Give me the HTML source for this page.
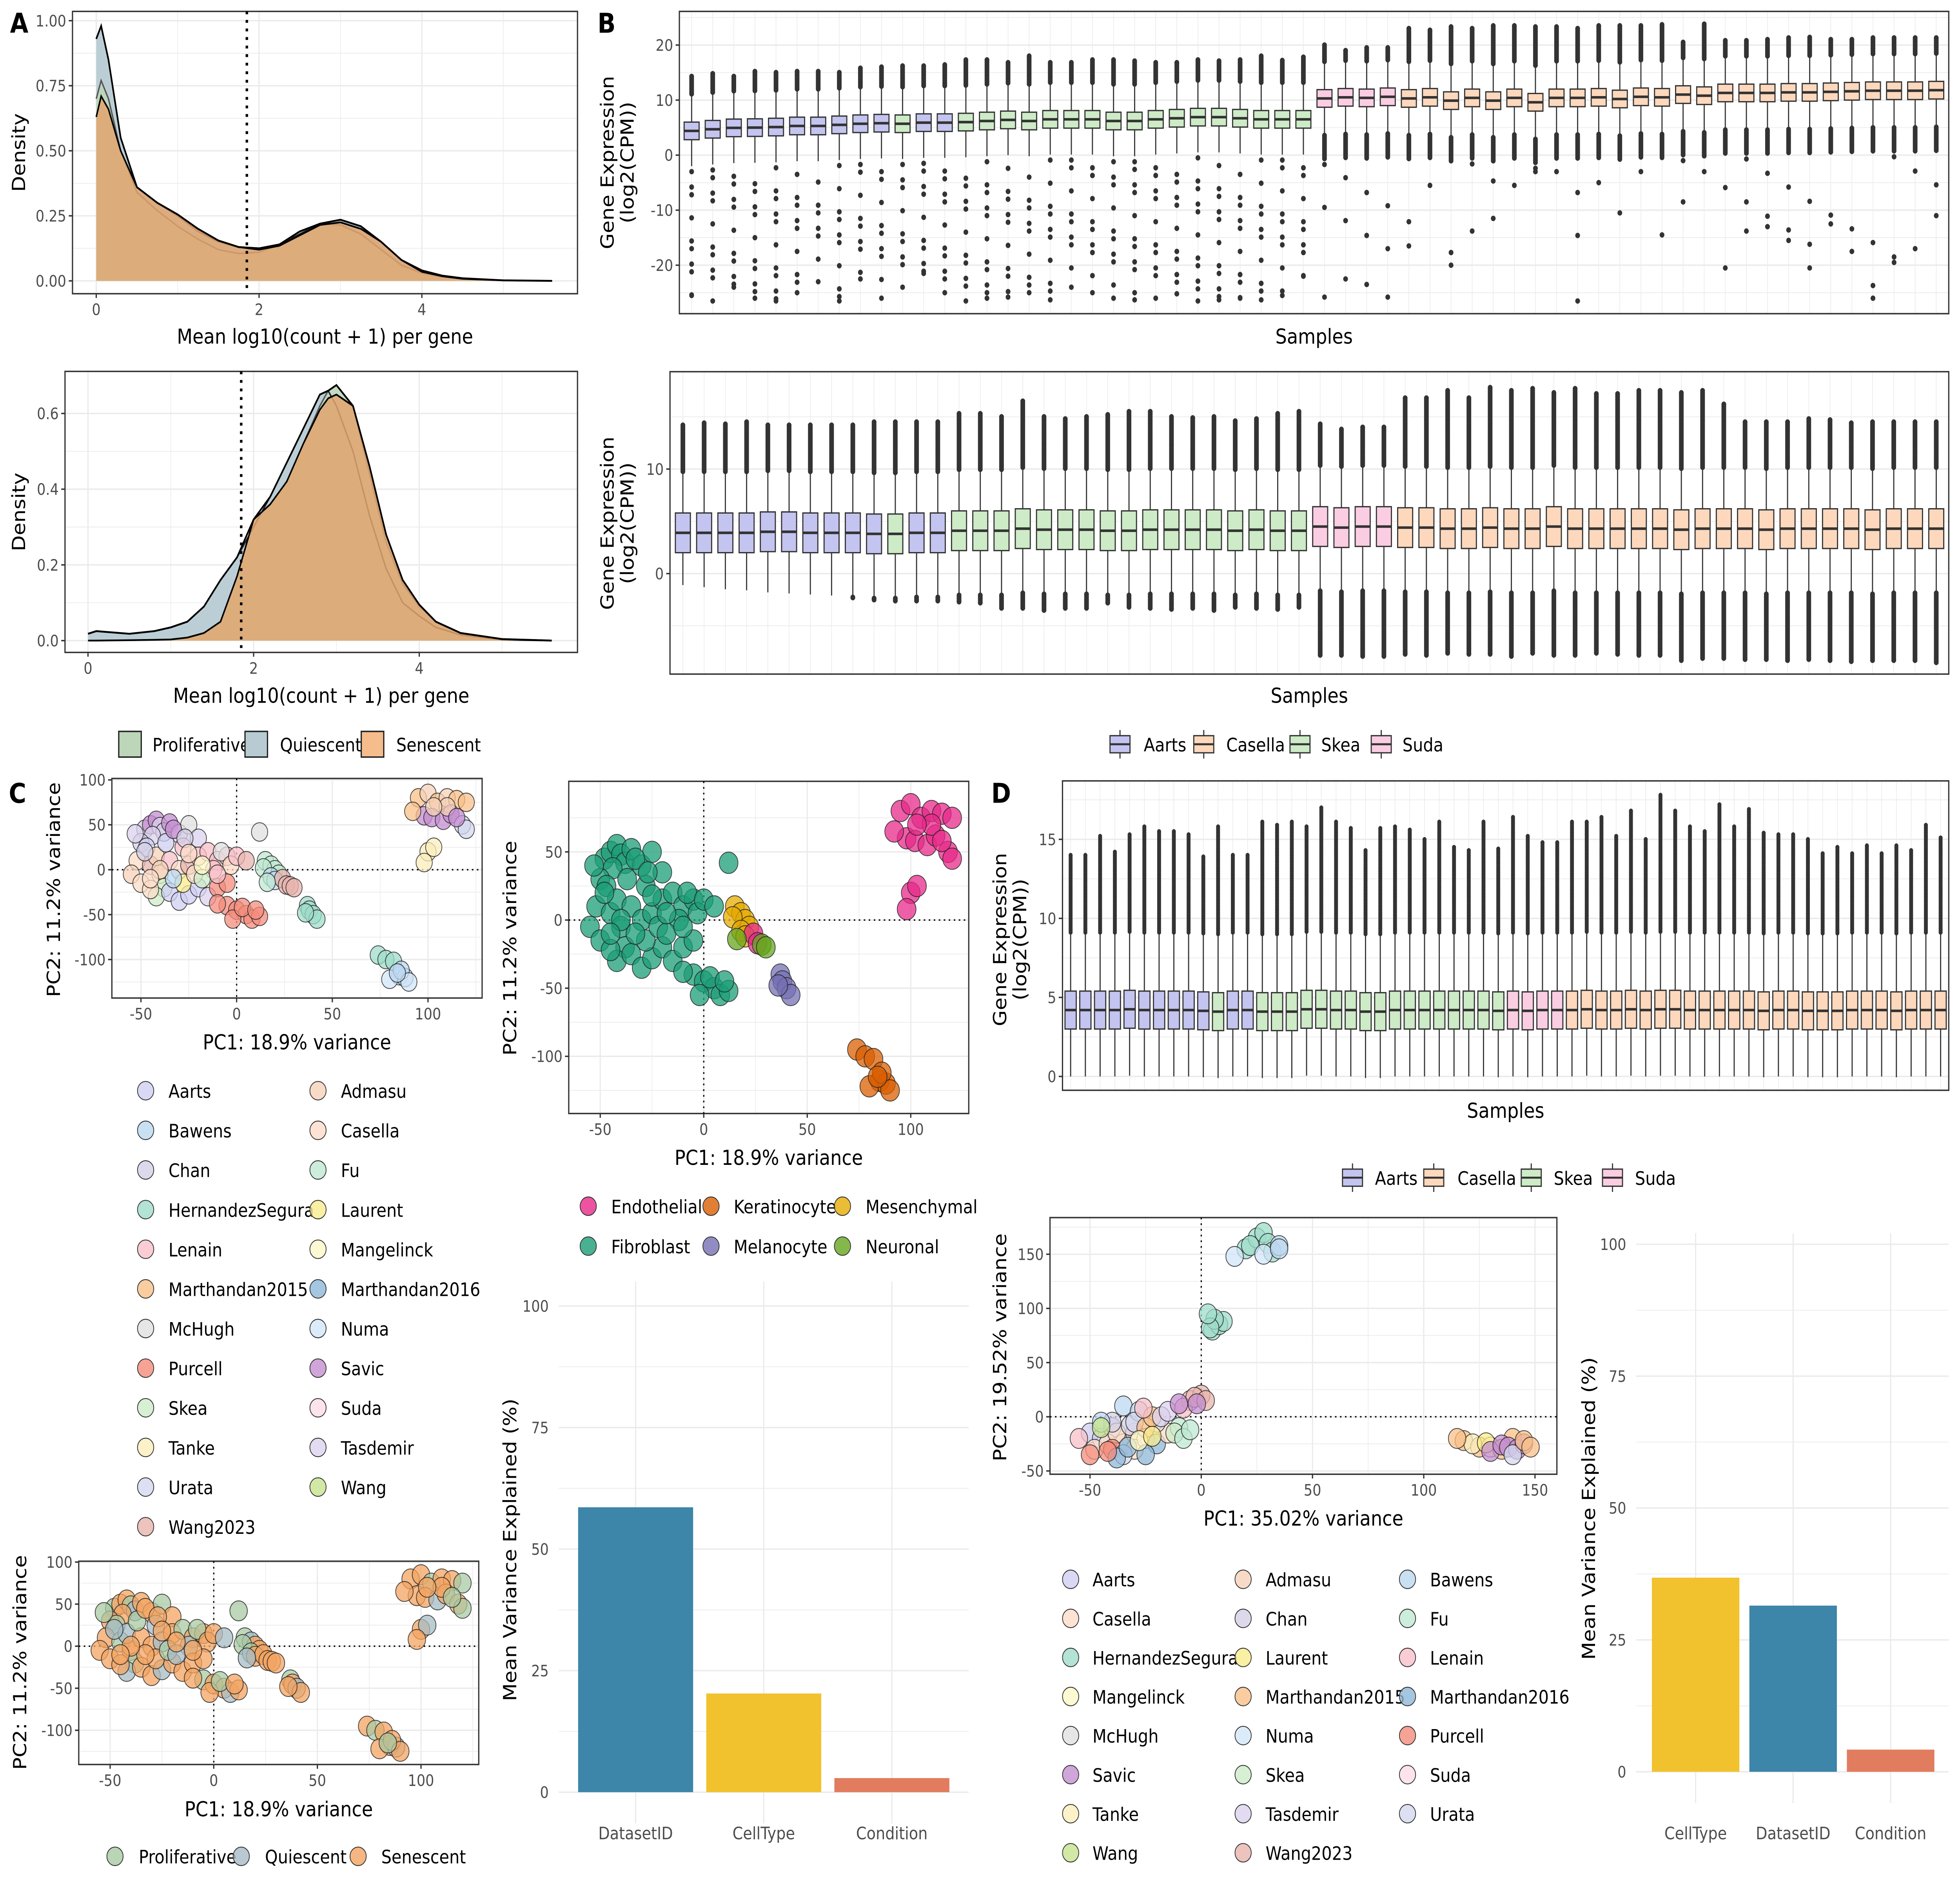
<!DOCTYPE html>
<html><head><meta charset="utf-8">
<style>html,body{margin:0;padding:0;background:#fff;overflow:hidden;width:100vw;height:100vh}svg{display:block;width:100vw;height:100vh}text{font-family:"DejaVu Sans","Liberation Sans",sans-serif}</style>
</head><body>
<svg id="fig" xmlns="http://www.w3.org/2000/svg" viewBox="0 0 1568 1320" preserveAspectRatio="none"><rect x="0" y="0" width="1568" height="1320" fill="#fff"/></svg>
<script>
// ---------- DATA ----------
const densXTop = [0,0.06,0.15,0.3,0.5,0.75,1,1.25,1.5,1.75,2,2.25,2.5,2.75,3,3.25,3.5,3.75,4,4.25,4.5,5,5.6];
const densQTop = [0.93,0.98,0.85,0.55,0.36,0.30,0.25,0.19,0.15,0.13,0.125,0.14,0.18,0.22,0.235,0.21,0.15,0.08,0.04,0.02,0.01,0.002,0];
const densPTop = [0.70,0.77,0.70,0.50,0.34,0.27,0.21,0.16,0.12,0.105,0.11,0.14,0.19,0.22,0.215,0.18,0.12,0.06,0.03,0.015,0.008,0.002,0];
const densSTop = [0.63,0.71,0.66,0.50,0.36,0.30,0.255,0.20,0.155,0.13,0.12,0.135,0.175,0.215,0.225,0.20,0.15,0.08,0.035,0.018,0.008,0.002,0];
const densXBot = [0,0.1,0.5,0.8,1,1.2,1.4,1.6,1.8,2,2.2,2.4,2.6,2.8,2.9,3,3.2,3.4,3.6,3.8,4,4.2,4.5,5,5.6];
const densQBot = [0.018,0.025,0.018,0.025,0.035,0.05,0.09,0.16,0.22,0.30,0.38,0.47,0.56,0.65,0.66,0.62,0.50,0.33,0.19,0.10,0.065,0.035,0.015,0.002,0];
const densPBot = [0,0,0.001,0.002,0.003,0.008,0.02,0.05,0.17,0.32,0.36,0.42,0.52,0.62,0.66,0.675,0.62,0.44,0.26,0.15,0.09,0.05,0.02,0.004,0];
const densSBot = [0,0,0.001,0.002,0.003,0.008,0.02,0.05,0.17,0.32,0.36,0.42,0.52,0.61,0.64,0.65,0.62,0.46,0.28,0.16,0.095,0.05,0.02,0.004,0];
const densCutoff = 1.85;

const sampleGroup = ['A','A','A','A','A','A','A','A','A','A','S','A','A',
 'S','S','S','S','S','S','S','S','S','S','S','S','S','S','S','S','S',
 'U','U','U','U',
 'C','C','C','C','C','C','C','C','C','C','C','C','C','C','C','C','C','C','C','C','C','C','C','C','C','C'];
const groupNames = {A:'Aarts',C:'Casella',S:'Skea',U:'Suda'};

const medB1 = [4.4,4.7,4.95,5.0,5.1,5.3,5.3,5.5,5.7,5.8,5.7,5.9,5.9,
 6.0,6.2,6.4,6.2,6.5,6.5,6.5,6.2,6.2,6.5,6.7,6.9,6.9,6.7,6.5,6.5,6.5,
 10.3,10.5,10.4,10.6,
 10.3,10.5,9.9,10.4,9.9,10.4,9.6,10.4,10.4,10.5,10.2,10.6,10.5,11.0,10.8,11.3,11.3,11.3,11.4,11.4,11.5,11.6,11.7,11.7,11.7,11.8];
const hiB1 = [14.3,14.8,14.3,15.2,15.0,15.2,15.2,15.0,15.8,16.0,16.2,16.2,16.4,
 17.3,17.3,16.8,18.0,16.8,16.8,17.3,17.3,17.1,16.8,16.8,17.3,17.1,17.3,18.0,17.2,17.8,
 20.0,19.0,19.5,19.5,
 23.0,22.7,23.3,23.0,23.5,23.5,23.3,23.3,23.0,23.5,23.5,23.5,23.7,20.5,23.8,20.8,20.8,21.0,21.3,21.4,21.0,21.0,21.3,21.3,21.3,21.3];
const loB1 = [-25.5,-26.5,-24,-26,-26.5,-25,-23,-26.5,-22.5,-26,-24,-21.5,-25,
 -26.5,-26,-25.8,-25,-26.3,-24,-25,-26,-26.3,-26,-25.2,-26.5,-26.3,-26,-26.3,-25.5,-22,
 -25.8,-22.5,-23.5,-25.8,
 -16.5,-5.5,-20,-13.8,-11.5,-5.5,-3,-3,-26.5,-5,-10.5,-3,-14.5,-8.5,-3,-20.5,-13.8,-13,-15.5,-20.5,-12.5,-17.5,-26,-19.5,-17,-11];

const medB2 = [3.9,3.9,3.9,3.9,4.0,4.0,3.9,3.9,3.9,3.8,3.8,3.9,3.9,
 4.1,4.1,4.1,4.3,4.2,4.2,4.2,4.1,4.1,4.2,4.2,4.2,4.2,4.1,4.2,4.1,4.1,
 4.5,4.4,4.5,4.5,
 4.4,4.4,4.3,4.3,4.4,4.3,4.3,4.5,4.3,4.3,4.3,4.3,4.3,4.2,4.3,4.3,4.3,4.2,4.3,4.3,4.3,4.3,4.2,4.3,4.3,4.3];
const hiB2 = [14.2,14.4,14.3,14.5,14.2,14.2,14.2,14.2,14.2,14.5,14.5,14.5,14.5,
 15.3,15.3,15.0,16.5,15.0,14.8,15.0,15.2,15.5,15.5,15.0,14.9,15.0,14.6,14.8,15.3,15.5,
 14.3,13.8,14.0,14.0,
 16.8,16.8,17.5,16.8,17.8,17.5,17.7,17.3,17.7,17.2,17.2,17.5,17.5,17.3,17.5,16.2,14.5,14.5,14.5,14.8,14.7,14.4,14.5,14.5,14.5,14.5];
const loB2 = [-1.1,-1.3,-1.5,-1.6,-1.8,-1.9,-2.0,-2.1,-2.3,-2.5,-2.6,-2.6,-2.6,
 -2.7,-2.8,-3.3,-3.3,-3.5,-3.3,-3.3,-2.8,-3.2,-3.3,-3.4,-3.3,-3.5,-3.2,-3.3,-3.4,-3.2,
 -7.8,-7.8,-7.9,-7.9,
 -7.7,-7.8,-7.6,-7.7,-7.7,-7.9,-7.6,-7.8,-7.8,-7.6,-7.7,-7.8,-7.8,-8.3,-8.1,-8.1,-8.2,-8.2,-8.3,-8.2,-8.3,-8.4,-8.3,-8.3,-8.3,-8.5];

const medD = [4.2,4.2,4.2,4.2,4.25,4.2,4.2,4.2,4.2,4.15,4.1,4.2,4.2,
 4.1,4.1,4.1,4.25,4.25,4.2,4.2,4.1,4.1,4.2,4.2,4.2,4.2,4.2,4.2,4.2,4.15,
 4.2,4.15,4.2,4.2,
 4.2,4.25,4.2,4.2,4.25,4.2,4.25,4.25,4.2,4.2,4.2,4.2,4.2,4.15,4.2,4.2,4.15,4.15,4.15,4.2,4.2,4.2,4.15,4.2,4.2,4.2];
const hiD = [14.0,14.0,15.2,14.2,15.3,15.8,15.5,15.5,15.3,13.9,15.8,14.0,14.0,
 16.1,15.9,16.1,15.8,17.0,16.1,15.7,14.3,15.7,15.8,15.6,15.0,16.1,14.5,14.3,16.1,14.4,
 16.4,15.2,14.8,14.8,
 16.1,16.1,16.4,15.2,16.8,15.0,17.8,16.8,15.8,15.5,17.2,15.8,16.9,15.4,15.3,15.3,15.0,14.1,14.5,14.1,14.6,14.1,14.6,14.3,15.9,15.1];

const dsNames = ['Aarts','Admasu','Bawens','Casella','Chan','Fu','HernandezSegura','Laurent','Lenain','Mangelinck','Marthandan2015','Marthandan2016','McHugh','Numa','Purcell','Savic','Skea','Suda','Tanke','Tasdemir','Urata','Wang','Wang2023'];
const dsColors = {Aarts:'#cfcff2',Admasu:'#f6d2b8',Bawens:'#bcd8f0',Casella:'#fcdcc8',Chan:'#d4d0e6',Fu:'#bfe8d2',HernandezSegura:'#9fdcca',Laurent:'#f9ec8c',Lenain:'#f8c0c8',Mangelinck:'#fdf8c8',Marthandan2015:'#f9c088',Marthandan2016:'#8fb8d8',McHugh:'#e0e0e0',Numa:'#d2e6f8',Purcell:'#f48c7c',Savic:'#c48ed0',Skea:'#cdecc8',Suda:'#fcdce9',Tanke:'#fbeebc',Tasdemir:'#dcd2ee',Urata:'#d4d8ef',Wang:'#c6e48e',Wang2023:'#e8b4ae'};
const ctNames = ['Endothelial','Keratinocyte','Mesenchymal','Fibroblast','Melanocyte','Neuronal'];
const ctColors = {Endothelial:'#e7298a',Fibroblast:'#1b9e77',Keratinocyte:'#d95f02',Melanocyte:'#7570b3',Mesenchymal:'#e6ab02',Neuronal:'#66a61e'};
const condNames = ['Proliferative','Quiescent','Senescent'];
const condColors = {Proliferative:'#a9c9a4',Quiescent:'#a7bcc6',Senescent:'#f3a462'};
const condSwatch = {Proliferative:'#bdd6b9',Quiescent:'#b8cbd3',Senescent:'#f5bd8c'};

const pc1C = [-48,-45,-42,-40,-38,-35,-44,-50,-47,-30,-25,-20,-28,-52,-55,-50,-45,-40,-42,-35,
 -30,-25,-20,-15,-10,-5,-12,-8,-3,0,-38,-42,-35,-30,-25,-20,-15,-28,-45,-33,
 -22,-18,-10,-5,-48,-37,-33,-27,-53,-40,-18,-10,5,-45,-25,12,
 -5,0,5,8,12,-2,3,10,-10,
 15,18,20,14,22,
 18,20,24,26,28,30,16,
 37,38,40,42,36,
 74,78,82,85,88,80,86,90,84,
 95,100,105,110,115,120,98,102,108,112,118,120,100,103,98,92,110,115,103];
const pc2C = [45,50,55,48,42,52,38,30,25,40,50,35,25,10,-5,-15,5,-5,15,10,
 0,5,15,20,10,15,0,20,5,15,-20,-30,-25,-35,-28,-20,-30,-15,-22,-10,
 -5,-10,-20,-15,20,30,45,35,40,0,5,-5,10,-10,18,42,
 -40,-45,-50,-55,-52,-55,-42,-45,-38,
 10,5,0,2,-5,
 -8,-12,-10,-17,-18,-20,-14,
 -40,-45,-50,-55,-48,
 -95,-100,-102,-118,-120,-122,-112,-125,-115,
 80,85,75,80,78,75,60,58,55,62,50,45,20,25,8,65,70,58,70];
const dsC = ['Chan','Savic','Savic','Tasdemir','Chan','Savic','Tasdemir','Chan','Aarts','Tasdemir','McHugh','Tasdemir','Lenain','Casella','Admasu','Casella','Wang2023','Casella','Admasu','Lenain',
 'Casella','Wang2023','Lenain','Lenain','Lenain','Lenain','Lenain','McHugh','Casella','Lenain','Skea','Skea','Aarts','Aarts','Aarts','Aarts','Tasdemir','Laurent','Casella','Bawens',
 'Casella','Skea','Purcell','Purcell','Chan','Aarts','Savic','Chan','Tasdemir','Admasu','Mangelinck','Lenain','Wang2023','Casella','Casella','McHugh',
 'Purcell','Purcell','Purcell','Purcell','Purcell','Purcell','Purcell','Purcell','Purcell',
 'Fu','Fu','Fu','Fu','Fu',
 'Bawens','Bawens','Wang2023','Wang2023','Wang2023','Wang2023','Fu',
 'HernandezSegura','HernandezSegura','HernandezSegura','HernandezSegura','HernandezSegura',
 'HernandezSegura','HernandezSegura','HernandezSegura','Numa','Bawens','Numa','Bawens','Numa','Bawens',
 'Marthandan2015','Admasu','Marthandan2015','Admasu','Marthandan2015','Marthandan2015','Savic','Savic','Savic','Savic','Urata','Urata','Tanke','Tanke','Tanke','Marthandan2015','Admasu','Savic','Admasu'];
const ctC = ['F','F','F','F','F','F','F','F','F','F','F','F','F','F','F','F','F','F','F','F',
 'F','F','F','F','F','F','F','F','F','F','F','F','F','F','F','F','F','F','F','F',
 'F','F','F','F','F','F','F','F','F','F','F','F','F','F','F','F',
 'F','F','F','F','F','F','F','F','F',
 'Ms','Ms','Ms','Ms','Ms',
 'Ms','Ms','E','E','N','N','N',
 'Me','Me','Me','Me','Me',
 'K','K','K','K','K','K','K','K','K',
 'E','E','E','E','E','E','E','E','E','E','E','E','E','E','E','E','E','E','E'];
const condC = ['P','S','S','P','Q','S','S','S','P','S','P','S','Q','S','S','S','P','S','Q','S',
 'S','Q','S','P','S','S','Q','P','S','S','P','Q','S','S','Q','S','S','S','S','S',
 'P','Q','S','S','Q','P','S','S','P','S','S','S','Q','S','S','P',
 'P','S','S','Q','S','S','P','S','S',
 'P','Q','S','P','S',
 'P','S','S','S','S','S','Q',
 'P','S','Q','S','S',
 'S','P','S','S','Q','S','S','S','P',
 'S','S','P','S','S','P','S','S','Q','S','S','P','S','Q','S','S','S','P','S'];
const ctCode = {F:'Fibroblast',E:'Endothelial',K:'Keratinocyte',Me:'Melanocyte',Ms:'Mesenchymal',N:'Neuronal'};
const condCode = {P:'Proliferative',Q:'Quiescent',S:'Senescent'};

const pc1D = [-50,-45,-40,-35,-30,-55,-48,-42,-38,-30,-25,-20,-15,-40,-32,-45,-35,-28,-20,-10,-12,-8,-5,-50,-40,-35,-30,-25,-22,-38,-33,-18,-15,-45,-25,-28,-22,-42,-26,
 -5,0,-8,-3,2,-10,-2,
 5,8,10,6,4,3,
 20,25,28,30,32,35,22,28,15,35,
 118,125,140,122,130,128,135,130,135,138,142,145,140,145,148,115];
const pc2D = [-15,-20,-10,-25,-15,-20,-30,-25,-15,-30,-20,-25,-15,-5,-8,-5,10,5,-5,-10,-15,-20,-12,-35,-30,-35,-5,-10,0,-38,-28,0,5,-10,-35,-22,-18,-32,8,
 15,20,8,18,15,12,12,
 80,85,88,90,82,95,
 155,165,170,160,152,158,158,150,148,155,
 -22,-28,-20,-25,-28,-24,-30,-32,-26,-28,-30,-25,-35,-22,-28,-20];
const dsD = ['Aarts','Aarts','Aarts','Admasu','Admasu','Lenain','Casella','Casella','Casella','Casella','Casella','Marthandan2016','Casella','Chan','Chan','Bawens','Bawens','Bawens','McHugh','Fu','Skea','Fu','Fu','Purcell','Purcell','Urata','Urata','Marthandan2015','Marthandan2015','Marthandan2016','Marthandan2016','Tasdemir','Tasdemir','Wang','Marthandan2016','Mangelinck','Laurent','Purcell','Lenain',
 'Lenain','Wang2023','Lenain','Wang2023','Wang2023','Savic','Savic',
 'HernandezSegura','HernandezSegura','HernandezSegura','HernandezSegura','HernandezSegura','HernandezSegura',
 'HernandezSegura','HernandezSegura','HernandezSegura','HernandezSegura','HernandezSegura','Bawens','HernandezSegura','Numa','Numa','Bawens',
 'Marthandan2015','Marthandan2015','Marthandan2015','Tanke','Tanke','Laurent','Marthandan2015','Savic','Savic','Savic','Savic','Savic','Urata','Marthandan2015','Marthandan2015','Marthandan2015'];

const barCatsC = ['DatasetID','CellType','Condition'];
const barValsC = [58.6,20.3,2.9];
const barCatsD = ['CellType','DatasetID','Condition'];
const barValsD = [36.8,31.5,4.2];
const barColors = {DatasetID:'#3d85a9',CellType:'#f1c22e',Condition:'#e17c5e'};

// ---------- HELPERS ----------
const NS='http://www.w3.org/2000/svg';
const fig=document.getElementById('fig');
function mk(tag,attrs,parent){const e=document.createElementNS(NS,tag);for(const k in attrs)e.setAttribute(k,attrs[k]);(parent||fig).appendChild(e);return e;}
function grp(name,parent){const g=mk('g',{},parent);


return g;}
function txt(p,x,y,s,size,anchor,fill,extra){const t=mk('text',Object.assign({x:x,y:y,'font-size':size,'text-anchor':anchor||'middle',fill:fill||'#000'},extra||{}),p);t.textContent=s;return t;}
function lin(d0,p0,d1,p1){return v=>p0+(v-d0)*(p1-p0)/(d1-d0);}
const GRID='#ebebeb';

function panelFrame(g,L,T,R,B,xs,ys,xT,yT,xMin,yMin,xLab,yLab,bw,fmtY){
  const grid=grp('grid',g);
  for(const v of (yMin||[])){const l=mk('line',{x1:L,x2:R,y1:ys(v),y2:ys(v),stroke:GRID,'stroke-width':0.5},grid);
  }
  for(const v of (xMin||[])){const l=mk('line',{x1:xs(v),x2:xs(v),y1:T,y2:B,stroke:GRID,'stroke-width':0.5},grid);
  }
  for(const v of yT){const l=mk('line',{x1:L,x2:R,y1:ys(v),y2:ys(v),stroke:GRID,'stroke-width':1},grid);
  }
  for(const v of (xT||[])){const l=mk('line',{x1:xs(v),x2:xs(v),y1:T,y2:B,stroke:GRID,'stroke-width':1},grid);
  }
  if(bw){const r=mk('rect',{x:L,y:T,width:R-L,height:B-T,fill:'none',stroke:'#333','stroke-width':1},g);
  }
  for(const v of yT){
    if(bw){const tk=mk('line',{x1:L-3,x2:L,y1:ys(v),y2:ys(v),stroke:'#333','stroke-width':1},g);
    }
    const t=txt(g,L-5,ys(v)+4,fmtY?fmtY(v):String(v),11,'end','#4d4d4d');
    
  }
  for(const v of (xT||[])){
    if(bw){const tk=mk('line',{x1:xs(v),x2:xs(v),y1:B,y2:B+3,stroke:'#333','stroke-width':1},g);
    }
    const t=txt(g,xs(v),B+15,String(v),11,'middle','#4d4d4d');
    
  }
}
function yTitle(g,x,cy,s,size){const t=txt(g,x,cy,s,size||14.5,'middle','#000',{transform:'rotate(-90 '+x+' '+cy+')'});return t;}

// ---------- PANEL A: densities ----------
function densPanel(name,L,T,R,B,xs,ys,yT,yMin,fmt,X,Q,P,S,titleY){
  const g=grp(name);
  panelFrame(g,L,T,R,B,xs,ys,[0,2,4],yT,[1,3,5],yMin,null,null,true,fmt);
  const area=(arr)=>{let d='M'+xs(X[0])+','+ys(0);for(let i=0;i<X.length;i++)d+='L'+xs(X[i]).toFixed(2)+','+ys(arr[i]).toFixed(2);return d+'L'+xs(X[X.length-1])+','+ys(0)+'Z';};
  const line=(arr)=>{let d='';for(let i=0;i<X.length;i++)d+=(i?'L':'M')+xs(X[i]).toFixed(2)+','+ys(arr[i]).toFixed(2);return d;};
  const fq=mk('path',{d:area(Q),fill:condSwatch.Quiescent,'fill-opacity':0.95},g);
  
  const fp=mk('path',{d:area(P),fill:condSwatch.Proliferative,'fill-opacity':0.9},g);
  
  const lp=mk('path',{d:line(P),fill:'none',stroke:'#555','stroke-width':1.1},g);
  
  const lq=mk('path',{d:line(Q),fill:'none',stroke:'#222','stroke-width':1.1},g);
  
  const fs=mk('path',{d:area(S),fill:'#e2a56f','fill-opacity':0.85},g);
  
  const ls=mk('path',{d:line(S),fill:'none',stroke:'#000','stroke-width':1.2},g);
  
  const top=Q.map((v,i)=>Math.max(v,P[i],S[i]));
  const lt=mk('path',{d:line(top),fill:'none',stroke:'#000','stroke-width':1.3},g);
  
  const cut=mk('line',{x1:xs(densCutoff),x2:xs(densCutoff),y1:T,y2:B,stroke:'#000','stroke-width':2,'stroke-dasharray':'2 4'},g);
  
  const xt=txt(g,(L+R)/2,titleY,'Mean log10(count + 1) per gene',14.5);
  
  const yt=yTitle(g,20,(T+B)/2,'Density');
  
}
densPanel('density-panel-top',58,8,462,206,lin(0,77,4,337.5),lin(0,197,1,14.5),[0,0.25,0.5,0.75,1],[0.125,0.375,0.625,0.875],v=>v.toFixed(2),densXTop,densQTop,densPTop,densSTop,241);
densPanel('density-panel-bottom',52,260.5,462,457.6,lin(0,70.4,4,335.4),lin(0,449.3,0.6,290),[0,0.2,0.4,0.6],[0.1,0.3,0.5],v=>v.toFixed(1),densXBot,densQBot,densPBot,densSBot,493);

{
  const g=grp('condition-legend-a');
  const xs=[95,196,289], tx=[122,224,317];
  condNames.forEach((c,i)=>{
    const r=mk('rect',{x:xs[i],y:513,width:18,height:18,fill:condSwatch[c],stroke:'#222','stroke-width':1},g);
    
    const t=txt(g,tx[i],527,c,13,'start');
    
  });
}

// ---------- BOX PANELS ----------
const boxFill={A:'#c4c4f0',C:'#fdd8bc',S:'#cdebc6',U:'#fbcde2'};
function boxPanel(name,L,T,R,B,c0,c1,ys,yT,yMin,med,h,wU,wL,hi,lo,mode,bw,dr,titleY,ytx,ytc){
  const g=grp(name);
  const n=med.length, xc=i=>c0+i*(c1-c0)/(n-1);
  const xg=[];for(let i=0;i<n;i++)xg.push(i);
  panelFrame(g,L,T,R,B,xc,ys,null,yT,xg,yMin,null,null,true);
  const pxU=Math.abs(ys(1)-ys(0)), step=1.25/pxU;
  for(let i=0;i<n;i++){
    const grpc=sampleGroup[i], sg=grp('box-'+groupNames[grpc].toLowerCase()+'-'+(i+1),g);
    const m=med[i], q3=m+h, q1=m-h, wu=m+wU, wl=Math.max(m-wL,lo[i]);
    const w=mk('line',{x1:xc(i),x2:xc(i),y1:ys(wu),y2:ys(wl),stroke:'#333','stroke-width':0.9},sg);
    
    let dd='';
    for(let v=wu+step;v<=hi[i];v+=step)dd+='M'+xc(i)+','+ys(v).toFixed(2)+'h0';
    dd+='M'+xc(i)+','+ys(hi[i]).toFixed(2)+'h0';
    const up=mk('path',{d:dd,stroke:'#333','stroke-width':dr*2,'stroke-linecap':'round',fill:'none'},sg);
    
    let ld='';
    if(mode==='B1'){
      let start=wl;
      if(grpc==='C'||grpc==='U'){const dEnd=m-11;for(let v=wl-step;v>=dEnd;v-=step)ld+='M'+xc(i)+','+ys(v).toFixed(2)+'h0';start=dEnd;}
      const sp=(grpc==='C'||grpc==='U')?2.6:1.4, keep=(grpc==='C'||grpc==='U')?2:5;
      let k=0;for(let v=start-1;v>lo[i];v-=sp,k++){if(((i*13+k*7)%10)<keep)ld+='M'+xc(i)+','+ys(v).toFixed(2)+'h0';}
      ld+='M'+xc(i)+','+ys(lo[i]).toFixed(2)+'h0';
    } else if(mode==='B2'){
      if(lo[i]<m-wL){for(let v=wl-step;v>=lo[i];v-=step)ld+='M'+xc(i)+','+ys(v).toFixed(2)+'h0';ld+='M'+xc(i)+','+ys(lo[i]).toFixed(2)+'h0';}
    }
    if(ld){const lw=mk('path',{d:ld,stroke:'#333','stroke-width':dr*2,'stroke-linecap':'round',fill:'none'},sg);
    }
    const r=mk('rect',{x:xc(i)-bw/2,y:ys(q3),width:bw,height:ys(q1)-ys(q3),fill:boxFill[grpc],stroke:'#333','stroke-width':0.9},sg);
    
    const md=mk('line',{x1:xc(i)-bw/2,x2:xc(i)+bw/2,y1:ys(m),y2:ys(m),stroke:'#333','stroke-width':1.8},sg);
    
  }
  const xt=txt(g,(L+R)/2,titleY,'Samples',14.5);
  
  const y1=yTitle(g,ytx,ytc,'Gene Expression');
  
  const y2=yTitle(g,ytx+16,ytc,'(log2(CPM))');
  
}
boxPanel('expression-boxplot-raw',543.5,8,1559,220,553.3,1549,lin(0,108.8,20,31.6),[-20,-10,0,10,20],[-25,-15,-5,5,15,25],medB1,1.6,6.4,6.4,hiB1,loB1,'B1',12,1.9,241,491,114);
boxPanel('expression-boxplot-filtered',536,260.7,1559,472.8,546.3,1549,lin(0,402.3,10,329),[0,10],[-5,5,15],medB2,1.9,5.7,6.0,hiB2,loB2,'B2',12,1.9,493,491,367);
boxPanel('expression-boxplot-d',850,547.7,1559,764.7,856.5,1552.5,lin(0,755,15,588.7),[0,5,10,15],[2.5,7.5,12.5,17.5],medD,1.2,4.8,4.2,hiD,medD.map(v=>v-4.2),'D',9,1.6,784,805,659);

function groupLegend(name,y,sx,tx){
  const g=grp(name);
  ['A','C','S','U'].forEach((k,i)=>{
    const kg=grp('legend-key-'+groupNames[k].toLowerCase(),g);
    const l=mk('line',{x1:sx[i]+8,x2:sx[i]+8,y1:y-10,y2:y+10,stroke:'#333','stroke-width':0.9},kg);
    
    const r=mk('rect',{x:sx[i],y:y-6,width:16,height:12,fill:boxFill[k],stroke:'#333','stroke-width':0.9},kg);
    
    const m=mk('line',{x1:sx[i],x2:sx[i]+16,y1:y,y2:y,stroke:'#333','stroke-width':1.4},kg);
    
    const t=txt(g,tx[i],y+5,groupNames[k],13,'start');
    
  });
}
groupLegend('dataset-legend-b',522,[888,955,1032,1097],[915,981,1057,1122]);
groupLegend('dataset-legend-d',826,[1074,1139,1217,1282],[1100,1166,1243,1308]);

// ---------- PCA PANELS ----------
function pcaPanel(name,L,T,R,B,xs,ys,xT,yT,xMin,yMin,P1,P2,colorOf,r,xTitle,xtY,yTitleX,ytc,yText){
  const g=grp(name);
  panelFrame(g,L,T,R,B,xs,ys,xT,yT,xMin,yMin,null,null,true);
  const z1=mk('line',{x1:xs(0),x2:xs(0),y1:T,y2:B,stroke:'#000','stroke-width':1,'stroke-dasharray':'1.2 2.8'},g);
  
  const z2=mk('line',{x1:L,x2:R,y1:ys(0),y2:ys(0),stroke:'#000','stroke-width':1,'stroke-dasharray':'1.2 2.8'},g);
  
  const pg=grp('points',g);
  for(let i=0;i<P1.length;i++){
    const c=mk('circle',{cx:xs(P1[i]),cy:ys(P2[i]),r:r,fill:colorOf(i),'fill-opacity':0.75,stroke:'#222','stroke-opacity':0.8,'stroke-width':0.6},pg);
    
  }
  const xt=txt(g,(L+R)/2,xtY,xTitle,14.5);
  
  const yt=yTitle(g,yTitleX,ytc,yText);
  
}
pcaPanel('pca-by-dataset',89.5,546,385.7,700,lin(0,189.3,100,342.4),lin(0,610,100,547),[-50,0,50,100],[-100,-50,0,50,100],[-25,25,75,125],[-125,-75,-25,25,75],pc1C,pc2C,i=>dsColors[dsC[i]],6.5,'PC1: 18.9% variance',736,48,624,'PC2: 11.2% variance');
pcaPanel('pca-by-celltype',455,548,775,781,lin(0,563,100,728.6),lin(0,645.3,100,549.7),[-50,0,50,100],[-100,-50,0,50],[-25,25,75],[-125,-75,-25,25,75],pc1C,pc2C,i=>ctColors[ctCode[ctC[i]]],7.5,'PC1: 18.9% variance',817,413,665,'PC2: 11.2% variance');
pcaPanel('pca-by-condition',63,1095,383,1237.6,lin(0,171,100,336.8),lin(0,1154.6,100,1095.6),[-50,0,50,100],[-100,-50,0,50,100],[-25,25,75,125],[-125,-75,-25,25,75],pc1C,pc2C,i=>condColors[condCode[condC[i]]],7,'PC1: 18.9% variance',1274,21,1166,'PC2: 11.2% variance');
pcaPanel('pca-corrected-by-dataset',840,854,1245.5,1034,lin(0,961,100,1139),lin(0,993.7,100,917.7),[-50,0,50,100,150],[-50,0,50,100,150],[-25,25,75,125],[-25,25,75,125,175],pc1D,pc2D,i=>dsColors[dsD[i]],7,'PC1: 35.02% variance',1070,805,945,'PC2: 19.52% variance');

function circleLegend(name,items,colors,cols,xc,xt,y0,dy,r){
  const g=grp(name);
  items.forEach((it,i)=>{
    const col=i%cols.length, row=Math.floor(i/cols.length);
    const y=y0+row*dy;
    const c=mk('circle',{cx:xc[col],cy:y,r:r,fill:colors[it],'fill-opacity':0.8,stroke:'#333','stroke-width':0.6},g);
    
    const t=txt(g,xt[col],y+5,it,13,'start');
    
  });
}
circleLegend('dataset-legend-c',dsNames,dsColors,[0,1],[116.5,254.4],[134.8,272.7],765,27.8,6.5);
circleLegend('celltype-legend',ctNames,ctColors,[0,1,2],[470.6,568.8,674],[489,587,692.5],846,28,6.5);
circleLegend('condition-legend-c',condNames,condColors,[0,1,2],[92,193,286.5],[111,212,305],1302,0,6.5);
circleLegend('dataset-legend-d-pca',dsNames,dsColors,[0,1,2],[856.5,994.5,1126],[874,1012.5,1144],1107.7,27.4,6.5);

// ---------- BAR PANELS ----------
function barPanel(name,L,R,T,ys,cats,vals,x0,bw,gap,ytX,ytc,labY){
  const g=grp(name);
  const grid=grp('grid',g);
  for(const v of [12.5,37.5,62.5,87.5]){const l=mk('line',{x1:L,x2:R,y1:ys(v),y2:ys(v),stroke:GRID,'stroke-width':0.5},grid);
  }
  for(const v of [0,25,50,75,100]){const l=mk('line',{x1:L,x2:R,y1:ys(v),y2:ys(v),stroke:GRID,'stroke-width':1},grid);
  
  const t=txt(g,L-8,ys(v)+4,String(v),11,'end','#4d4d4d');
  }
  cats.forEach((c,i)=>{
    const cx=x0+i*(bw+gap)+bw/2;
    const vl=mk('line',{x1:cx,x2:cx,y1:T,y2:ys(0)+22,stroke:GRID,'stroke-width':1},grid);
    
    const r=mk('rect',{x:cx-bw/2,y:ys(vals[i]),width:bw,height:ys(0)-ys(vals[i]),fill:barColors[c]},g);
    
    const t=txt(g,cx,labY,c,12,'middle','#4d4d4d');
    
  });
  const yt=yTitle(g,ytX,ytc,'Mean Variance Explained (%)');
  
}
barPanel('variance-bar-c',447,775,899,lin(0,1257,100,916),barCatsC,barValsC,462.5,92,10.5,413,1087,1290);
barPanel('variance-bar-d',1309,1559,865,lin(0,1242.7,100,872.7),barCatsD,barValsD,1321.5,70,8,1276,1058,1290);

// ---------- PANEL LETTERS ----------
[['A',8,23],['B',478,23],['C',7,563],['D',793,563]].forEach(p=>{
  const t=txt(fig,p[1],p[2],p[0],19,'start','#000',{'font-weight':'bold'});
  
});
</script>
</body></html>
